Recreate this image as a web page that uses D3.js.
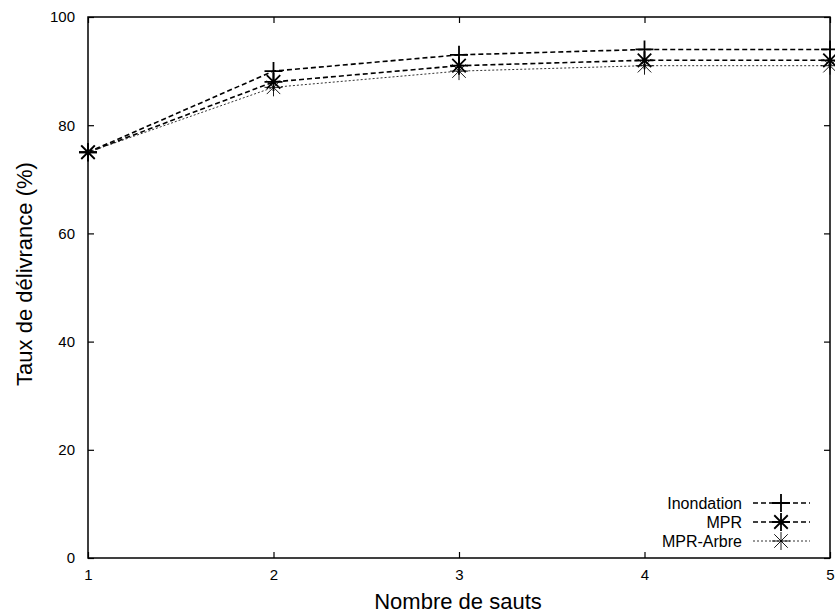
<!DOCTYPE html>
<html>
<head>
<meta charset="utf-8">
<script src="https://d3js.org/d3.v7.min.js"></script>
<style>
  body { margin: 0; background: #fff; }
  text { font-family: "Liberation Sans", Arial, sans-serif; fill: #000; }
</style>
</head>
<body>
<div id="chart"></div>
<script>
// ========= Data ========= //
const hops = [1, 2, 3, 4, 5];
const inondation = [75, 90, 93, 94, 94];
const mpr = [75, 88, 91, 92, 92];
const mprArbre = [75, 87, 90, 91, 91];
const yTicks = [0, 20, 40, 60, 80, 100];
const seriesNames = ['Inondation', 'MPR', 'MPR-Arbre'];

// ========= Dimensions ========= //
const width = 835, height = 614;
const margin = { left: 88, right: 5, top: 17, bottom: 56 };
const x0 = margin.left, x1 = width - margin.right;
const y0 = height - margin.bottom, y1 = margin.top;

const svg = d3.select('#chart').append('svg')
  .attr('width', width)
  .attr('height', height);

const x = d3.scaleLinear().domain([1, 5]).range([x0, x1]);
const y = d3.scaleLinear().domain([0, 100]).range([y0, y1]);

// ========= Axes (ticks inward, mirrored) ========= //
const tickLen = 6;
svg.append('g')
  .attr('transform', `translate(0,${y0})`)
  .call(d3.axisBottom(x).tickValues(hops).tickFormat(d3.format('d'))
    .tickSizeInner(-tickLen).tickSizeOuter(0).tickPadding(11))
  .call(g => g.select('.domain').remove())
  .call(g => g.selectAll('text').attr('font-size', 15));

svg.append('g')
  .attr('transform', `translate(0,${y1})`)
  .call(d3.axisTop(x).tickValues(hops).tickFormat('')
    .tickSizeInner(-tickLen).tickSizeOuter(0))
  .call(g => g.select('.domain').remove());

svg.append('g')
  .attr('transform', `translate(${x0},0)`)
  .call(d3.axisLeft(y).tickValues(yTicks)
    .tickSizeInner(-tickLen).tickSizeOuter(0).tickPadding(13))
  .call(g => g.select('.domain').remove())
  .call(g => g.selectAll('text').attr('font-size', 15));

svg.append('g')
  .attr('transform', `translate(${x1},0)`)
  .call(d3.axisRight(y).tickValues(yTicks).tickFormat('')
    .tickSizeInner(-tickLen).tickSizeOuter(0))
  .call(g => g.select('.domain').remove());

svg.selectAll('.tick line').attr('stroke', '#000').attr('stroke-width', 1.2);

// frame
svg.append('rect')
  .attr('x', x0).attr('y', y1)
  .attr('width', x1 - x0).attr('height', y0 - y1)
  .attr('fill', 'none').attr('stroke', '#000').attr('stroke-width', 1.5);

// ========= Axis titles ========= //
svg.append('text')
  .attr('x', 458).attr('y', 609)
  .attr('text-anchor', 'middle').attr('font-size', 22)
  .text('Nombre de sauts');

svg.append('text')
  .attr('transform', `translate(32,274) rotate(-90)`)
  .attr('text-anchor', 'middle').attr('font-size', 22)
  .text('Taux de délivrance (%)');

// ========= Series ========= //
const styles = [
  { values: inondation, dash: '5,3', width: 1.6, color: '#000', marker: 'plus', mw: 1.8 },
  { values: mpr, dash: '5,3', width: 1.6, color: '#000', marker: 'star', mw: 1.8 },
  { values: mprArbre, dash: '2,2', width: 1, color: '#333', marker: 'star', mw: 0.9 }
];

const line = d3.line().x((d, i) => x(hops[i])).y(d => y(d));
const r = 9;

function drawMarker(g, cx, cy, type, sw) {
  const path = d3.path();
  path.moveTo(cx - r, cy); path.lineTo(cx + r, cy);
  path.moveTo(cx, cy - r); path.lineTo(cx, cy + r);
  if (type === 'star') {
    const d = r * 0.75;
    path.moveTo(cx - d, cy - d); path.lineTo(cx + d, cy + d);
    path.moveTo(cx - d, cy + d); path.lineTo(cx + d, cy - d);
  }
  g.append('path').attr('d', path.toString())
    .attr('stroke', '#000').attr('stroke-width', sw).attr('fill', 'none');
}

const plot = svg.append('g');
styles.forEach(s => {
  plot.append('path')
    .datum(s.values)
    .attr('d', line)
    .attr('fill', 'none')
    .attr('stroke', s.color)
    .attr('stroke-width', s.width)
    .attr('stroke-dasharray', s.dash);
  s.values.forEach((v, i) => drawMarker(plot, x(hops[i]), y(v), s.marker, s.mw));
});

// ========= Legend ========= //
const legend = svg.append('g');
const legY = [503, 522, 541];
styles.forEach((s, i) => {
  legend.append('text')
    .attr('x', 742).attr('y', legY[i]).attr('dy', '0.35em')
    .attr('text-anchor', 'end').attr('font-size', 16)
    .text(seriesNames[i]);
  legend.append('line')
    .attr('x1', 753).attr('x2', 810)
    .attr('y1', legY[i]).attr('y2', legY[i])
    .attr('stroke', s.color).attr('stroke-width', s.width)
    .attr('stroke-dasharray', s.dash);
  drawMarker(legend, 781, legY[i], s.marker, s.mw);
});
</script>
</body>
</html>
